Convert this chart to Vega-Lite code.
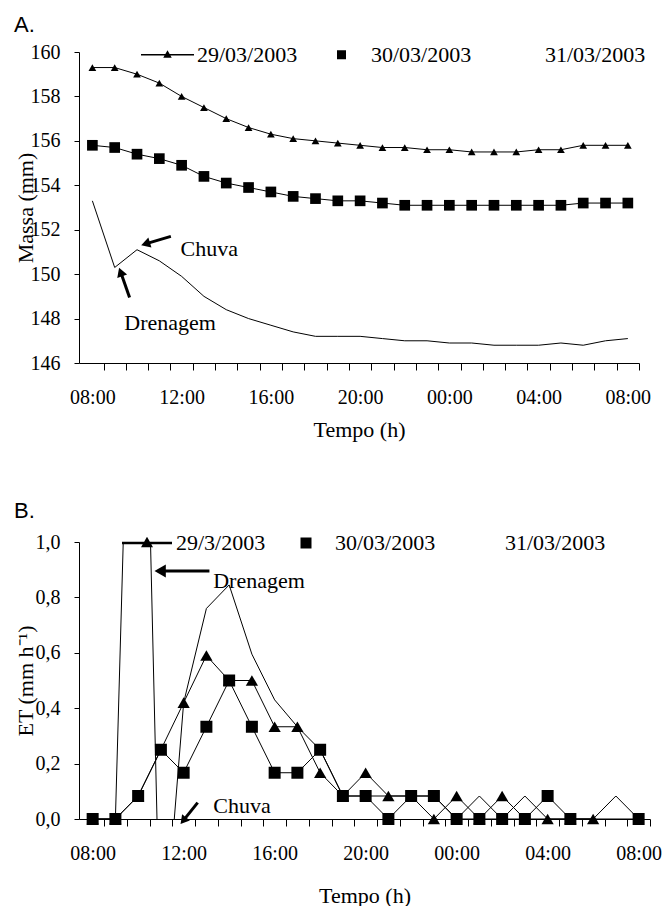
{
  "$schema": "https://vega.github.io/schema/vega-lite/v6.json",
  "background": "white",
  "padding": {"left": 14, "top": 14, "right": 8, "bottom": 0},
  "bounds": "flush",
  "spacing": 179,
  "resolve": {"scale": {"shape": "independent"}, "legend": {"shape": "independent"}},
  "config": {
    "view": {"stroke": null},
    "axis": {
      "grid": false, "domainColor": "black", "tickColor": "black", "labelColor": "black", "titleColor": "black",
      "labelFont": "Liberation Serif", "titleFont": "Liberation Serif", "labelFontSize": 20, "titleFontSize": 22,
      "titleFontWeight": "normal", "domainWidth": 1, "tickWidth": 1
    }
  },
  "datasets": {
    "massa": [
      {"hora": "2003-03-29T08:00", "serie": "29/03/2003", "valor": 159.3},
      {"hora": "2003-03-29T09:00", "serie": "29/03/2003", "valor": 159.3},
      {"hora": "2003-03-29T10:00", "serie": "29/03/2003", "valor": 159.0},
      {"hora": "2003-03-29T11:00", "serie": "29/03/2003", "valor": 158.6},
      {"hora": "2003-03-29T12:00", "serie": "29/03/2003", "valor": 158.0},
      {"hora": "2003-03-29T13:00", "serie": "29/03/2003", "valor": 157.5},
      {"hora": "2003-03-29T14:00", "serie": "29/03/2003", "valor": 157.0},
      {"hora": "2003-03-29T15:00", "serie": "29/03/2003", "valor": 156.6},
      {"hora": "2003-03-29T16:00", "serie": "29/03/2003", "valor": 156.3},
      {"hora": "2003-03-29T17:00", "serie": "29/03/2003", "valor": 156.1},
      {"hora": "2003-03-29T18:00", "serie": "29/03/2003", "valor": 156.0},
      {"hora": "2003-03-29T19:00", "serie": "29/03/2003", "valor": 155.9},
      {"hora": "2003-03-29T20:00", "serie": "29/03/2003", "valor": 155.8},
      {"hora": "2003-03-29T21:00", "serie": "29/03/2003", "valor": 155.7},
      {"hora": "2003-03-29T22:00", "serie": "29/03/2003", "valor": 155.7},
      {"hora": "2003-03-29T23:00", "serie": "29/03/2003", "valor": 155.6},
      {"hora": "2003-03-30T00:00", "serie": "29/03/2003", "valor": 155.6},
      {"hora": "2003-03-30T01:00", "serie": "29/03/2003", "valor": 155.5},
      {"hora": "2003-03-30T02:00", "serie": "29/03/2003", "valor": 155.5},
      {"hora": "2003-03-30T03:00", "serie": "29/03/2003", "valor": 155.5},
      {"hora": "2003-03-30T04:00", "serie": "29/03/2003", "valor": 155.6},
      {"hora": "2003-03-30T05:00", "serie": "29/03/2003", "valor": 155.6},
      {"hora": "2003-03-30T06:00", "serie": "29/03/2003", "valor": 155.8},
      {"hora": "2003-03-30T07:00", "serie": "29/03/2003", "valor": 155.8},
      {"hora": "2003-03-30T08:00", "serie": "29/03/2003", "valor": 155.8},
      {"hora": "2003-03-29T08:00", "serie": "30/03/2003", "valor": 155.8},
      {"hora": "2003-03-29T09:00", "serie": "30/03/2003", "valor": 155.7},
      {"hora": "2003-03-29T10:00", "serie": "30/03/2003", "valor": 155.4},
      {"hora": "2003-03-29T11:00", "serie": "30/03/2003", "valor": 155.2},
      {"hora": "2003-03-29T12:00", "serie": "30/03/2003", "valor": 154.9},
      {"hora": "2003-03-29T13:00", "serie": "30/03/2003", "valor": 154.4},
      {"hora": "2003-03-29T14:00", "serie": "30/03/2003", "valor": 154.1},
      {"hora": "2003-03-29T15:00", "serie": "30/03/2003", "valor": 153.9},
      {"hora": "2003-03-29T16:00", "serie": "30/03/2003", "valor": 153.7},
      {"hora": "2003-03-29T17:00", "serie": "30/03/2003", "valor": 153.5},
      {"hora": "2003-03-29T18:00", "serie": "30/03/2003", "valor": 153.4},
      {"hora": "2003-03-29T19:00", "serie": "30/03/2003", "valor": 153.3},
      {"hora": "2003-03-29T20:00", "serie": "30/03/2003", "valor": 153.3},
      {"hora": "2003-03-29T21:00", "serie": "30/03/2003", "valor": 153.2},
      {"hora": "2003-03-29T22:00", "serie": "30/03/2003", "valor": 153.1},
      {"hora": "2003-03-29T23:00", "serie": "30/03/2003", "valor": 153.1},
      {"hora": "2003-03-30T00:00", "serie": "30/03/2003", "valor": 153.1},
      {"hora": "2003-03-30T01:00", "serie": "30/03/2003", "valor": 153.1},
      {"hora": "2003-03-30T02:00", "serie": "30/03/2003", "valor": 153.1},
      {"hora": "2003-03-30T03:00", "serie": "30/03/2003", "valor": 153.1},
      {"hora": "2003-03-30T04:00", "serie": "30/03/2003", "valor": 153.1},
      {"hora": "2003-03-30T05:00", "serie": "30/03/2003", "valor": 153.1},
      {"hora": "2003-03-30T06:00", "serie": "30/03/2003", "valor": 153.2},
      {"hora": "2003-03-30T07:00", "serie": "30/03/2003", "valor": 153.2},
      {"hora": "2003-03-30T08:00", "serie": "30/03/2003", "valor": 153.2},
      {"hora": "2003-03-29T08:00", "serie": "31/03/2003", "valor": 153.3},
      {"hora": "2003-03-29T09:00", "serie": "31/03/2003", "valor": 150.3},
      {"hora": "2003-03-29T10:00", "serie": "31/03/2003", "valor": 151.1},
      {"hora": "2003-03-29T11:00", "serie": "31/03/2003", "valor": 150.6},
      {"hora": "2003-03-29T12:00", "serie": "31/03/2003", "valor": 149.9},
      {"hora": "2003-03-29T13:00", "serie": "31/03/2003", "valor": 149.0},
      {"hora": "2003-03-29T14:00", "serie": "31/03/2003", "valor": 148.4},
      {"hora": "2003-03-29T15:00", "serie": "31/03/2003", "valor": 148.0},
      {"hora": "2003-03-29T16:00", "serie": "31/03/2003", "valor": 147.7},
      {"hora": "2003-03-29T17:00", "serie": "31/03/2003", "valor": 147.4},
      {"hora": "2003-03-29T18:00", "serie": "31/03/2003", "valor": 147.2},
      {"hora": "2003-03-29T19:00", "serie": "31/03/2003", "valor": 147.2},
      {"hora": "2003-03-29T20:00", "serie": "31/03/2003", "valor": 147.2},
      {"hora": "2003-03-29T21:00", "serie": "31/03/2003", "valor": 147.1},
      {"hora": "2003-03-29T22:00", "serie": "31/03/2003", "valor": 147.0},
      {"hora": "2003-03-29T23:00", "serie": "31/03/2003", "valor": 147.0},
      {"hora": "2003-03-30T00:00", "serie": "31/03/2003", "valor": 146.9},
      {"hora": "2003-03-30T01:00", "serie": "31/03/2003", "valor": 146.9},
      {"hora": "2003-03-30T02:00", "serie": "31/03/2003", "valor": 146.8},
      {"hora": "2003-03-30T03:00", "serie": "31/03/2003", "valor": 146.8},
      {"hora": "2003-03-30T04:00", "serie": "31/03/2003", "valor": 146.8},
      {"hora": "2003-03-30T05:00", "serie": "31/03/2003", "valor": 146.9},
      {"hora": "2003-03-30T06:00", "serie": "31/03/2003", "valor": 146.8},
      {"hora": "2003-03-30T07:00", "serie": "31/03/2003", "valor": 147.0},
      {"hora": "2003-03-30T08:00", "serie": "31/03/2003", "valor": 147.1}
    ],
    "et": [
      {"hora": "2003-03-29T08:00", "serie": "29/03/2003", "valor": 0},
      {"hora": "2003-03-29T09:00", "serie": "29/03/2003", "valor": 0},
      {"hora": "2003-03-29T10:00", "serie": "29/03/2003", "valor": 0.083},
      {"hora": "2003-03-29T11:00", "serie": "29/03/2003", "valor": 0.25},
      {"hora": "2003-03-29T12:00", "serie": "29/03/2003", "valor": 0.42},
      {"hora": "2003-03-29T13:00", "serie": "29/03/2003", "valor": 0.59},
      {"hora": "2003-03-29T14:00", "serie": "29/03/2003", "valor": 0.5},
      {"hora": "2003-03-29T15:00", "serie": "29/03/2003", "valor": 0.5},
      {"hora": "2003-03-29T16:00", "serie": "29/03/2003", "valor": 0.333},
      {"hora": "2003-03-29T17:00", "serie": "29/03/2003", "valor": 0.333},
      {"hora": "2003-03-29T18:00", "serie": "29/03/2003", "valor": 0.167},
      {"hora": "2003-03-29T19:00", "serie": "29/03/2003", "valor": 0.083},
      {"hora": "2003-03-29T20:00", "serie": "29/03/2003", "valor": 0.167},
      {"hora": "2003-03-29T21:00", "serie": "29/03/2003", "valor": 0.083},
      {"hora": "2003-03-29T22:00", "serie": "29/03/2003", "valor": 0.083},
      {"hora": "2003-03-29T23:00", "serie": "29/03/2003", "valor": 0},
      {"hora": "2003-03-30T00:00", "serie": "29/03/2003", "valor": 0.083},
      {"hora": "2003-03-30T01:00", "serie": "29/03/2003", "valor": 0},
      {"hora": "2003-03-30T02:00", "serie": "29/03/2003", "valor": 0.083},
      {"hora": "2003-03-30T03:00", "serie": "29/03/2003", "valor": 0},
      {"hora": "2003-03-30T04:00", "serie": "29/03/2003", "valor": 0},
      {"hora": "2003-03-30T05:00", "serie": "29/03/2003", "valor": 0},
      {"hora": "2003-03-30T06:00", "serie": "29/03/2003", "valor": 0},
      {"hora": "2003-03-29T08:00", "serie": "30/03/2003", "valor": 0},
      {"hora": "2003-03-29T09:00", "serie": "30/03/2003", "valor": 0},
      {"hora": "2003-03-29T10:00", "serie": "30/03/2003", "valor": 0.083},
      {"hora": "2003-03-29T11:00", "serie": "30/03/2003", "valor": 0.25},
      {"hora": "2003-03-29T12:00", "serie": "30/03/2003", "valor": 0.167},
      {"hora": "2003-03-29T13:00", "serie": "30/03/2003", "valor": 0.333},
      {"hora": "2003-03-29T14:00", "serie": "30/03/2003", "valor": 0.5},
      {"hora": "2003-03-29T15:00", "serie": "30/03/2003", "valor": 0.333},
      {"hora": "2003-03-29T16:00", "serie": "30/03/2003", "valor": 0.167},
      {"hora": "2003-03-29T17:00", "serie": "30/03/2003", "valor": 0.167},
      {"hora": "2003-03-29T18:00", "serie": "30/03/2003", "valor": 0.25},
      {"hora": "2003-03-29T19:00", "serie": "30/03/2003", "valor": 0.083},
      {"hora": "2003-03-29T20:00", "serie": "30/03/2003", "valor": 0.083},
      {"hora": "2003-03-29T21:00", "serie": "30/03/2003", "valor": 0},
      {"hora": "2003-03-29T22:00", "serie": "30/03/2003", "valor": 0.083},
      {"hora": "2003-03-29T23:00", "serie": "30/03/2003", "valor": 0.083},
      {"hora": "2003-03-30T00:00", "serie": "30/03/2003", "valor": 0},
      {"hora": "2003-03-30T01:00", "serie": "30/03/2003", "valor": 0},
      {"hora": "2003-03-30T02:00", "serie": "30/03/2003", "valor": 0},
      {"hora": "2003-03-30T03:00", "serie": "30/03/2003", "valor": 0},
      {"hora": "2003-03-30T04:00", "serie": "30/03/2003", "valor": 0.083},
      {"hora": "2003-03-30T05:00", "serie": "30/03/2003", "valor": 0},
      {"hora": "2003-03-30T08:00", "serie": "30/03/2003", "valor": 0},
      {"hora": "2003-03-29T08:00", "serie": "31/03/2003", "valor": 0},
      {"hora": "2003-03-29T09:00", "serie": "31/03/2003", "valor": 0},
      {"hora": "2003-03-29T10:00", "serie": "31/03/2003", "valor": 2.9},
      {"hora": "2003-03-29T11:00", "serie": "31/03/2003", "valor": -0.6},
      {"hora": "2003-03-29T12:00", "serie": "31/03/2003", "valor": 0.42},
      {"hora": "2003-03-29T13:00", "serie": "31/03/2003", "valor": 0.76},
      {"hora": "2003-03-29T14:00", "serie": "31/03/2003", "valor": 0.845},
      {"hora": "2003-03-29T15:00", "serie": "31/03/2003", "valor": 0.595},
      {"hora": "2003-03-29T16:00", "serie": "31/03/2003", "valor": 0.43},
      {"hora": "2003-03-29T17:00", "serie": "31/03/2003", "valor": 0.333},
      {"hora": "2003-03-29T18:00", "serie": "31/03/2003", "valor": 0.25},
      {"hora": "2003-03-29T19:00", "serie": "31/03/2003", "valor": 0.083},
      {"hora": "2003-03-29T20:00", "serie": "31/03/2003", "valor": 0.083},
      {"hora": "2003-03-29T21:00", "serie": "31/03/2003", "valor": 0.083},
      {"hora": "2003-03-29T22:00", "serie": "31/03/2003", "valor": 0.083},
      {"hora": "2003-03-29T23:00", "serie": "31/03/2003", "valor": 0.083},
      {"hora": "2003-03-30T00:00", "serie": "31/03/2003", "valor": 0},
      {"hora": "2003-03-30T01:00", "serie": "31/03/2003", "valor": 0.083},
      {"hora": "2003-03-30T02:00", "serie": "31/03/2003", "valor": 0},
      {"hora": "2003-03-30T03:00", "serie": "31/03/2003", "valor": 0.083},
      {"hora": "2003-03-30T04:00", "serie": "31/03/2003", "valor": 0},
      {"hora": "2003-03-30T05:00", "serie": "31/03/2003", "valor": 0},
      {"hora": "2003-03-30T06:00", "serie": "31/03/2003", "valor": 0},
      {"hora": "2003-03-30T07:00", "serie": "31/03/2003", "valor": 0.083},
      {"hora": "2003-03-30T08:00", "serie": "31/03/2003", "valor": 0}
    ],
    "textosA": [
      {"nota": "Chuva", "hora": "2003-03-29T11:57", "valor": 151.15},
      {"nota": "Drenagem", "hora": "2003-03-29T09:26", "valor": 147.78}
    ],
    "setasA": [
      {"nota": "Chuva", "hora": "2003-03-29T10:23", "valor": 151.36, "hora2": "2003-03-29T11:31", "valor2": 151.7},
      {"nota": "Drenagem", "hora": "2003-03-29T09:16", "valor": 150.1, "hora2": "2003-03-29T09:40", "valor2": 148.95}
    ],
    "textosB": [
      {"nota": "Drenagem", "hora": "2003-03-29T13:18", "valor": 0.859},
      {"nota": "Chuva", "hora": "2003-03-29T13:18", "valor": 0.048}
    ],
    "setasB": [
      {"nota": "Drenagem", "hora": "2003-03-29T10:58", "valor": 0.895, "hora2": "2003-03-29T13:08", "valor2": 0.895},
      {"nota": "Chuva", "hora": "2003-03-29T11:59", "valor": -0.006, "hora2": "2003-03-29T12:37", "valor2": 0.059}
    ]
  },
  "vconcat": [
    {
      "width": 560,
      "height": 311,
      "title": {"text": "A.", "anchor": "start", "frame": "bounds", "fontSize": 22, "fontWeight": "normal", "color": "black", "offset": -9},
      "encoding": {
        "x": {
          "field": "hora", "type": "temporal", "title": "Tempo (h)",
          "scale": {"domain": [{"year": 2003, "month": 3, "date": 29, "hours": 7, "minutes": 24}, {"year": 2003, "month": 3, "date": 30, "hours": 8, "minutes": 30}]},
          "axis": {
            "values": [
              {"year": 2003, "month": 3, "date": 29, "hours": 8}, {"year": 2003, "month": 3, "date": 29, "hours": 9}, {"year": 2003, "month": 3, "date": 29, "hours": 10}, {"year": 2003, "month": 3, "date": 29, "hours": 11},
              {"year": 2003, "month": 3, "date": 29, "hours": 12}, {"year": 2003, "month": 3, "date": 29, "hours": 13}, {"year": 2003, "month": 3, "date": 29, "hours": 14}, {"year": 2003, "month": 3, "date": 29, "hours": 15},
              {"year": 2003, "month": 3, "date": 29, "hours": 16}, {"year": 2003, "month": 3, "date": 29, "hours": 17}, {"year": 2003, "month": 3, "date": 29, "hours": 18}, {"year": 2003, "month": 3, "date": 29, "hours": 19},
              {"year": 2003, "month": 3, "date": 29, "hours": 20}, {"year": 2003, "month": 3, "date": 29, "hours": 21}, {"year": 2003, "month": 3, "date": 29, "hours": 22}, {"year": 2003, "month": 3, "date": 29, "hours": 23},
              {"year": 2003, "month": 3, "date": 30, "hours": 0}, {"year": 2003, "month": 3, "date": 30, "hours": 1}, {"year": 2003, "month": 3, "date": 30, "hours": 2}, {"year": 2003, "month": 3, "date": 30, "hours": 3},
              {"year": 2003, "month": 3, "date": 30, "hours": 4}, {"year": 2003, "month": 3, "date": 30, "hours": 5}, {"year": 2003, "month": 3, "date": 30, "hours": 6}, {"year": 2003, "month": 3, "date": 30, "hours": 7},
              {"year": 2003, "month": 3, "date": 30, "hours": 8}
            ],
            "labelExpr": "hours(datum.value) % 4 == 0 ? timeFormat(datum.value, '%H:%M') : ''",
            "tickSize": 7, "tickOffset": 11.15, "labelOffset": -11.15, "labelFlush": false, "labelOverlap": false,
            "labelPadding": 17, "titlePadding": 12
          }
        },
        "y": {
          "field": "valor", "type": "quantitative", "title": "Massa (mm)",
          "scale": {"domain": [146, 160], "nice": false, "zero": false},
          "axis": {"values": [146, 148, 150, 152, 154, 156, 158, 160], "format": "d", "tickSize": 5, "labelPadding": 14, "minExtent": 40, "maxExtent": 40, "titlePadding": 2}
        }
      },
      "layer": [
        {
          "data": {"name": "massa"},
          "mark": {"type": "line", "color": "black", "strokeWidth": 1},
          "encoding": {"detail": {"field": "serie", "type": "nominal"}}
        },
        {
          "data": {"name": "massa"},
          "transform": [{"filter": "datum.serie === '29/03/2003'"}],
          "mark": {"type": "point", "shape": "triangle-up", "filled": true, "color": "black", "opacity": 1, "size": 60}
        },
        {
          "data": {"name": "massa"},
          "transform": [{"filter": "datum.serie === '30/03/2003'"}],
          "mark": {"type": "point", "shape": "square", "filled": true, "color": "black", "opacity": 1, "size": 114}
        },
        {
          "data": {"name": "massa"},
          "transform": [{"filter": "false"}],
          "mark": {"type": "point", "filled": true, "color": "black", "opacity": 1, "size": 2809},
          "encoding": {
            "shape": {
              "field": "serie", "type": "nominal",
              "scale": {
                "domain": ["29/03/2003", "30/03/2003", "31/03/2003"],
                "range": ["M-1,-0.028L1,-0.028L1,0.028L-1,0.028Z M0,-0.17L0.16,0.11L-0.16,0.11Z", "M-0.17,-0.17L0.17,-0.17L0.17,0.17L-0.17,0.17Z", "M0,0L0.001,0L0.001,0.001Z"]
              },
              "legend": {
                "title": null, "orient": "none", "legendX": 62, "legendY": -24, "direction": "horizontal",
                "symbolSize": 2809, "symbolFillColor": "black", "symbolStrokeWidth": 0,
                "labelFont": "Liberation Serif", "labelFontSize": 22, "labelColor": "black", "labelOffset": 3,
                "columnPadding": 17, "labelLimit": 0, "padding": 0
              }
            }
          }
        },
        {
          "data": {"name": "setasA"},
          "mark": {"type": "rule", "color": "black", "strokeWidth": 3},
          "encoding": {"x2": {"field": "hora2"}, "y2": {"field": "valor2"}}
        },
        {
          "data": {"name": "setasA"},
          "transform": [{"filter": "datum.nota === 'Chuva'"}],
          "mark": {"type": "point", "shape": "triangle-up", "filled": true, "color": "black", "opacity": 1, "size": 110, "angle": 253}
        },
        {
          "data": {"name": "setasA"},
          "transform": [{"filter": "datum.nota === 'Drenagem'"}],
          "mark": {"type": "point", "shape": "triangle-up", "filled": true, "color": "black", "opacity": 1, "size": 110, "angle": 340}
        },
        {
          "data": {"name": "textosA"},
          "mark": {"type": "text", "align": "left", "baseline": "middle", "font": "Liberation Serif", "fontSize": 22, "color": "black"},
          "encoding": {"text": {"field": "nota", "type": "nominal"}}
        }
      ]
    },
    {
      "width": 571,
      "height": 277,
      "title": {"text": "B.", "anchor": "start", "frame": "bounds", "fontSize": 22, "fontWeight": "normal", "color": "black", "offset": -5},
      "encoding": {
        "x": {
          "field": "hora", "type": "temporal", "title": "Tempo (h)",
          "scale": {"domain": [{"year": 2003, "month": 3, "date": 29, "hours": 7, "minutes": 24}, {"year": 2003, "month": 3, "date": 30, "hours": 8, "minutes": 30}]},
          "axis": {
            "values": [
              {"year": 2003, "month": 3, "date": 29, "hours": 8}, {"year": 2003, "month": 3, "date": 29, "hours": 9}, {"year": 2003, "month": 3, "date": 29, "hours": 10}, {"year": 2003, "month": 3, "date": 29, "hours": 11},
              {"year": 2003, "month": 3, "date": 29, "hours": 12}, {"year": 2003, "month": 3, "date": 29, "hours": 13}, {"year": 2003, "month": 3, "date": 29, "hours": 14}, {"year": 2003, "month": 3, "date": 29, "hours": 15},
              {"year": 2003, "month": 3, "date": 29, "hours": 16}, {"year": 2003, "month": 3, "date": 29, "hours": 17}, {"year": 2003, "month": 3, "date": 29, "hours": 18}, {"year": 2003, "month": 3, "date": 29, "hours": 19},
              {"year": 2003, "month": 3, "date": 29, "hours": 20}, {"year": 2003, "month": 3, "date": 29, "hours": 21}, {"year": 2003, "month": 3, "date": 29, "hours": 22}, {"year": 2003, "month": 3, "date": 29, "hours": 23},
              {"year": 2003, "month": 3, "date": 30, "hours": 0}, {"year": 2003, "month": 3, "date": 30, "hours": 1}, {"year": 2003, "month": 3, "date": 30, "hours": 2}, {"year": 2003, "month": 3, "date": 30, "hours": 3},
              {"year": 2003, "month": 3, "date": 30, "hours": 4}, {"year": 2003, "month": 3, "date": 30, "hours": 5}, {"year": 2003, "month": 3, "date": 30, "hours": 6}, {"year": 2003, "month": 3, "date": 30, "hours": 7},
              {"year": 2003, "month": 3, "date": 30, "hours": 8}
            ],
            "labelExpr": "hours(datum.value) % 4 == 0 ? timeFormat(datum.value, '%H:%M') : ''",
            "tickSize": 7, "tickOffset": 11.4, "labelOffset": -11.4, "labelFlush": false, "labelOverlap": false,
            "labelPadding": 17, "titlePadding": 22
          }
        },
        "y": {
          "field": "valor", "type": "quantitative", "title": "ET (mm h⁻¹)",
          "scale": {"domain": [0, 1], "nice": false},
          "axis": {"values": [0, 0.2, 0.4, 0.6, 0.8, 1.0], "labelExpr": "replace(format(datum.value, '.1f'), '.', ',')", "tickSize": 5, "labelPadding": 14, "minExtent": 40, "maxExtent": 40, "titlePadding": 2}
        }
      },
      "layer": [
        {
          "data": {"name": "et"},
          "mark": {"type": "line", "color": "black", "strokeWidth": 1, "clip": true},
          "encoding": {"detail": {"field": "serie", "type": "nominal"}}
        },
        {
          "data": {"name": "et"},
          "transform": [{"filter": "datum.serie === '30/03/2003'"}],
          "mark": {"type": "point", "shape": "square", "filled": true, "color": "black", "opacity": 1, "size": 144}
        },
        {
          "data": {"name": "et"},
          "transform": [{"filter": "datum.serie === '29/03/2003'"}],
          "mark": {"type": "point", "shape": "triangle-up", "filled": true, "color": "black", "opacity": 1, "size": 150}
        },
        {
          "data": {"name": "et"},
          "transform": [{"filter": "false"}],
          "mark": {"type": "point", "filled": true, "color": "black", "opacity": 1, "size": 2500},
          "encoding": {
            "shape": {
              "field": "serie", "type": "nominal",
              "scale": {
                "domain": ["29/03/2003", "30/03/2003", "31/03/2003"],
                "range": ["M-1,-0.05L1,-0.05L1,0.05L-1,0.05Z M0,-0.25L0.24,0.17L-0.24,0.17Z", "M-0.22,-0.22L0.22,-0.22L0.22,0.22L-0.22,0.22Z", "M0,0L0.001,0L0.001,0.001Z"]
              },
              "legend": {
                "title": null, "orient": "none", "legendX": 43, "legendY": -24, "direction": "horizontal",
                "symbolSize": 2500, "symbolFillColor": "black", "symbolStrokeWidth": 0,
                "labelFont": "Liberation Serif", "labelFontSize": 22, "labelColor": "black", "labelOffset": 4,
                "columnPadding": 15, "labelLimit": 0, "padding": 0,
                "labelExpr": "datum.label === '29/03/2003' ? '29/3/2003' : datum.label"
              }
            }
          }
        },
        {
          "data": {"name": "setasB"},
          "mark": {"type": "rule", "color": "black", "strokeWidth": 3},
          "encoding": {"x2": {"field": "hora2"}, "y2": {"field": "valor2"}}
        },
        {
          "data": {"name": "setasB"},
          "transform": [{"filter": "datum.nota === 'Drenagem'"}],
          "mark": {"type": "point", "shape": "triangle-up", "filled": true, "color": "black", "opacity": 1, "size": 170, "angle": 270}
        },
        {
          "data": {"name": "setasB"},
          "transform": [{"filter": "datum.nota === 'Chuva'"}],
          "mark": {"type": "point", "shape": "triangle-up", "filled": true, "color": "black", "opacity": 1, "size": 100, "angle": 219}
        },
        {
          "data": {"name": "textosB"},
          "mark": {"type": "text", "align": "left", "baseline": "middle", "font": "Liberation Serif", "fontSize": 22, "color": "black"},
          "encoding": {"text": {"field": "nota", "type": "nominal"}}
        }
      ]
    }
  ]
}
